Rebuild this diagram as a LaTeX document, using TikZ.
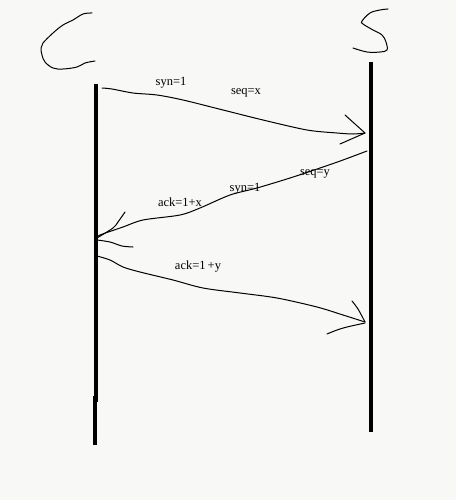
\documentclass[tikz,border=0pt]{standalone}
\usepackage{fontspec}
\setmainfont{Liberation Serif}
\definecolor{paper}{RGB}{248,248,246}
\begin{document}
\begin{tikzpicture}[x=1pt,y=-1pt,
  thin line/.style={draw=black,line width=1pt,line join=round,line cap=round},
  lifeline/.style={draw=black,line width=4.2pt},
  lbl/.style={font=\fontsize{12.5}{14}\selectfont,inner sep=0pt}]
\fill[paper] (0,0) rectangle (456,500);
\useasboundingbox (0,0) rectangle (456,500);
% letters C and S
\draw[thin line] plot[smooth,tension=0.6] coordinates {(92,13) (83,14) (73,20) (63,25) (53,33) (43,43) (41,48) (42,55) (45,62) (53,68) (63,69) (77,67) (85,63) (95,61)};
\draw[thin line] plot[smooth,tension=0.6] coordinates {(388,9) (380,10) (370,13) (362,21) (363,24) (373,30) (382,35) (386,42) (387,50) (380,52) (367,52) (353,48)};
% lifelines
\coordinate (c1) at (96,84);
\coordinate (c2) at (96,402);
\coordinate (c3) at (95,396);
\coordinate (c4) at (95,445);
\coordinate (s1) at (371,62);
\coordinate (s2) at (371,432);
\draw[lifeline] (c1) -- (c2);
\draw[lifeline] (c3) -- (c4);
\draw[lifeline] (s1) -- (s2);
% arrow 1
\coordinate (t1) at (365,133);
\draw[thin line] plot[smooth,tension=0.5] coordinates {(102,88) (112,89) (133,93) (157,95) (183,100) (223,110) (263,120) (307,130) (337,133) (353,134) (365,133)};
\draw[thin line] (345,115) -- (t1) -- (340,144);
% arrow 2
\coordinate (t2) at (97,238);
\draw[thin line] plot[smooth,tension=0.5] coordinates {(367,151) (343,160) (323,167) (290,178) (257,188) (230,195) (200,208) (180,215) (143,220) (123,227) (100,235) (97,238)};
\draw[thin line] plot[smooth,tension=0.5] coordinates {(125,212) (118,222) (113,228) (97,238)};
\draw[thin line] plot[smooth,tension=0.5] coordinates {(97,240) (110,242) (122,246) (133,247)};
% arrow 3
\coordinate (t3) at (365,322);
\draw[thin line] plot[smooth,tension=0.5] coordinates {(97,256) (110,260) (123,267) (140,272) (173,280) (203,288) (240,293) (277,298) (317,307) (343,315) (365,322)};
\draw[thin line] plot[smooth,tension=0.5] coordinates {(352,301) (358,309) (365,322)};
\draw[thin line] plot[smooth,tension=0.5] coordinates {(327,334) (337,330) (347,327) (365,323)};
% labels
\node[lbl] (l1) at (171,83) {syn=1};
\node[lbl] (l2) at (246,93) {seq=x};
\node[lbl] (l3) at (315,174) {seq=y};
\node[lbl] (l4) at (245,189) {syn=1};
\node[lbl] (l5) at (180,202) {ack=1+x};
\node[lbl] (l6) at (198,267) {ack=1\,+y};
\end{tikzpicture}
\end{document}
